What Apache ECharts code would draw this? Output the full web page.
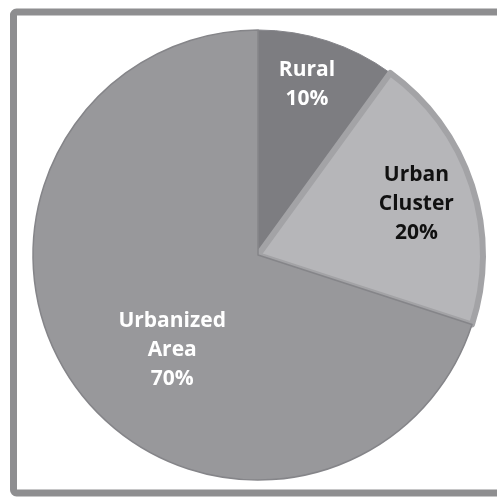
<!DOCTYPE html>
<html>
<head>
<meta charset="utf-8">
<script src="https://cdn.jsdelivr.net/npm/echarts@6/dist/echarts.min.js"></script>
<style>
  html, body { margin: 0; padding: 0; background: #ffffff; }
  #chart { width: 497px; height: 498px; }
</style>
</head>
<body>
<div id="chart"></div>
<script>
// Share of land by area type
const categories = ['Rural', 'Urban\nCluster', 'Urbanized\nArea'];
const shares = [10, 20, 70];

// Slice styling
const sliceColors = ['#7d7d81', '#b6b6b9', '#98989b'];
const sliceBorders = ['#85858a', '#a3a3a6', '#858589'];
const sliceBorderWidths = [1, 6, 1.5];
const labelColors = ['#ffffff', '#111111', '#ffffff'];
// Label placement as a fraction of the radius, plus an angular nudge (deg)
const labelRadius = [0.79, 0.74, 0.57];
const labelTurn = [-2, 0, -12];

const cx = 258, cy = 255, R = 225;

const chart = echarts.init(document.getElementById('chart'), null, { renderer: 'canvas' });

const seriesData = categories.map((name, i) => ({
  name: name,
  value: shares[i],
  itemStyle: {
    color: sliceColors[i],
    borderColor: sliceBorders[i],
    borderWidth: sliceBorderWidths[i],
    borderJoin: 'round'
  },
  label: { color: labelColors[i] }
}));

chart.setOption({
  backgroundColor: '#ffffff',
  animation: false,
  graphic: [{
    type: 'rect',
    shape: { x: 13.5, y: 12, width: 510, height: 481, r: 3 },
    style: { fill: null, stroke: '#8e8e90', lineWidth: 7 },
    z: 0
  }],
  series: [{
    type: 'pie',
    center: [cx, cy],
    radius: [0, R],
    startAngle: 90,
    clockwise: true,
    avoidLabelOverlap: false,
    data: seriesData,
    label: {
      show: true,
      position: 'inside',
      formatter: p => p.name + '\n' + p.value + '%',
      fontFamily: '"Open Sans", Lato, sans-serif',
      fontWeight: 'bold',
      fontSize: 21,
      lineHeight: 29,
      align: 'center'
    },
    labelLine: { show: false },
    labelLayout: function (params) {
      const i = params.dataIndex;
      // midpoint angle of the slice, measured clockwise from 12 o'clock
      let before = 0;
      for (let k = 0; k < i; k++) before += shares[k];
      const total = shares.reduce((a, b) => a + b, 0);
      const mid = (before + shares[i] / 2) / total * 360 + labelTurn[i];
      const a = mid * Math.PI / 180;
      const d = labelRadius[i] * R;
      return {
        x: cx + d * Math.sin(a),
        y: cy - d * Math.cos(a),
        align: 'center',
        verticalAlign: 'middle'
      };
    },
    emphasis: { disabled: true }
  }]
});
</script>
</body>
</html>
